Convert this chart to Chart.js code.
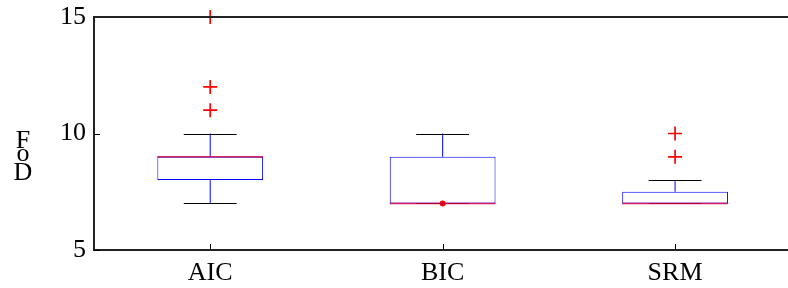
<!DOCTYPE html>
<html>
<head>
<meta charset="utf-8">
<script src="https://cdn.jsdelivr.net/npm/chart.js@4/dist/chart.umd.min.js"></script>
<style>
html,body{margin:0;padding:0;background:#fff;overflow:hidden;width:788px;height:288px;}
canvas{display:block;}
</style>
</head>
<body>
<canvas id="c" width="800" height="288"></canvas>
<script>
// ---- data ----
const categories = ['AIC', 'BIC', 'SRM'];
const q1 = [8, 7, 7];
const q3 = [9, 9, 7.5];
const medians = [9, 7, 7];
const whiskerLow = [7, 7, 7];
const whiskerHigh = [10, 10, 8];
const outliers = [[11, 12, 15], [], [9, 10]];
const dotMarkers = [null, 7, null];
const yTicks = [5, 10, 15];
const yLabel = 'DoF';

const FONT = "'Liberation Serif', 'Times New Roman', serif";

const outlierPoints = [];
outliers.forEach((arr, i) => arr.forEach(v => outlierPoints.push({x: categories[i], y: v})));
const dotPoints = [];
dotMarkers.forEach((v, i) => { if (v !== null) dotPoints.push({x: categories[i], y: v}); });

const boxPlugin = {
  id: 'boxParts',
  afterDatasetsDraw(chart) {
    const ctx = chart.ctx;
    const xs = chart.scales.x, ys = chart.scales.y;
    const area = chart.chartArea;
    const meta = chart.getDatasetMeta(0);
    ctx.save();
    categories.forEach((c, i) => {
      const x = xs.getPixelForValue(i);
      const bw = meta.data[i].width;
      const capHalf = bw * 0.25;
      ctx.strokeStyle = '#0000ff';
      ctx.lineWidth = 1;
      ctx.beginPath();
      if (whiskerHigh[i] > q3[i]) {
        ctx.moveTo(x, ys.getPixelForValue(q3[i]));
        ctx.lineTo(x, ys.getPixelForValue(whiskerHigh[i]));
      }
      if (whiskerLow[i] < q1[i]) {
        ctx.moveTo(x, ys.getPixelForValue(q1[i]));
        ctx.lineTo(x, ys.getPixelForValue(whiskerLow[i]));
      }
      ctx.stroke();
      ctx.strokeStyle = '#000000';
      ctx.beginPath();
      [whiskerHigh[i], whiskerLow[i]].forEach(v => {
        const y = Math.round(ys.getPixelForValue(v)) + 0.5;
        ctx.moveTo(x - capHalf, y);
        ctx.lineTo(x + capHalf, y);
      });
      ctx.stroke();
      ctx.strokeStyle = 'rgba(210,0,70,0.85)';
      ctx.lineWidth = 1.5;
      ctx.beginPath();
      const ym = ys.getPixelForValue(medians[i]);
      ctx.moveTo(x - bw / 2, ym);
      ctx.lineTo(x + bw / 2, ym);
      ctx.stroke();
    });
    ctx.strokeStyle = '#000';
    ctx.lineWidth = 1;
    ctx.beginPath();
    categories.forEach((c, i) => {
      const x = Math.round(xs.getPixelForValue(i)) + 0.5;
      ctx.moveTo(x, area.bottom);
      ctx.lineTo(x, area.bottom - 6);
    });
    yTicks.forEach(v => {
      const y = Math.round(ys.getPixelForValue(v)) + 0.5;
      ctx.moveTo(area.left, y);
      ctx.lineTo(area.left + 6, y);
    });
    ctx.stroke();
    ctx.strokeStyle = '#222';
    ctx.lineWidth = 2;
    ctx.beginPath();
    ctx.moveTo(area.left, area.top);
    ctx.lineTo(area.right, area.top);
    ctx.stroke();
    ctx.fillStyle = '#000';
    ctx.font = '26px ' + FONT;
    ctx.textAlign = 'center';
    ctx.textBaseline = 'alphabetic';
    const letters = yLabel.split('');
    const baselines = [180, 161, 148];
    letters.forEach((ch, k) => ctx.fillText(ch, 23, baselines[k]));
    ctx.restore();
  }
};

new Chart(document.getElementById('c'), {
  type: 'bar',
  data: {
    labels: categories,
    datasets: [
      {
        type: 'bar',
        data: q1.map((v, i) => [v, q3[i]]),
        backgroundColor: '#ffffff',
        borderColor: '#0000ff',
        borderWidth: 1,
        borderSkipped: false,
        barPercentage: 0.455,
        categoryPercentage: 1,
        order: 2
      },
      {
        type: 'line',
        data: outlierPoints,
        showLine: false,
        clip: false,
        pointStyle: 'cross',
        pointRadius: 7,
        pointBorderColor: '#ff0000',
        pointBorderWidth: 1.7,
        order: 0
      },
      {
        type: 'line',
        data: dotPoints,
        showLine: false,
        clip: false,
        pointStyle: 'circle',
        pointRadius: 3,
        pointBackgroundColor: '#ff0000',
        pointBorderColor: '#ff0000',
        pointBorderWidth: 0,
        order: 0
      }
    ]
  },
  options: {
    responsive: false,
    animation: false,
    events: [],
    layout: { padding: { left: 0, top: 17, right: 4, bottom: 0 } },
    plugins: { legend: { display: false }, tooltip: { enabled: false } },
    scales: {
      x: {
        type: 'category',
        offset: true,
        grid: { display: false, drawTicks: false },
        border: { display: true, color: '#222', width: 2 },
        ticks: { color: '#000', font: { family: FONT, size: 26 }, padding: 8 },
        afterFit(s) { s.height = 38; s.paddingLeft = 0; s.paddingRight = 0; }
      },
      y: {
        min: 5, max: 15,
        afterBuildTicks(s) { s.ticks = yTicks.map(v => ({ value: v })); },
        grid: { display: false, drawTicks: false },
        border: { display: true, color: '#222', width: 2 },
        ticks: { color: '#000', font: { family: FONT, size: 26 }, padding: 8 },
        afterFit(s) { s.width = 94; s.paddingTop = 0; s.paddingBottom = 0; }
      }
    }
  },
  plugins: [boxPlugin]
});
</script>
</body>
</html>
